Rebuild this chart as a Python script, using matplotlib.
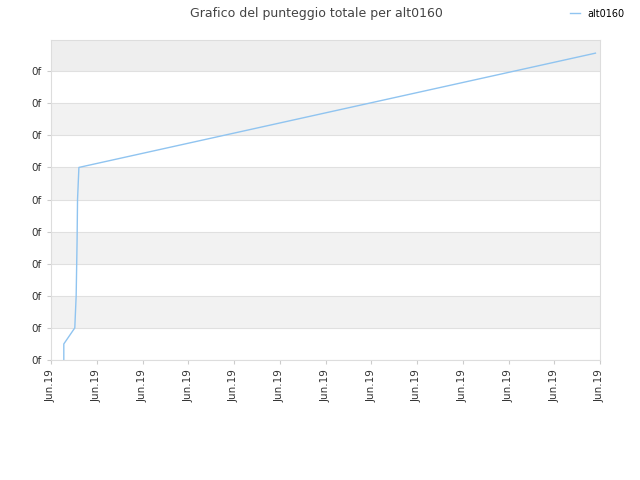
import matplotlib
matplotlib.use("Agg")
import matplotlib.pyplot as plt
from matplotlib.patches import Rectangle

# data in axis units (x: ticks 0..12, y: ticks 0..9)
x_vals = [0.28, 0.28, 0.52, 0.55, 0.57, 0.58, 0.61, 11.9]
y_vals = [0.0, 0.5, 1.0, 2.0, 3.7, 5.0, 6.0, 9.56]
x_labels = ["Jun.19"] * 13
y_labels = ["0f"] * 10

fig = plt.figure(figsize=(6.4, 4.8), dpi=100)
ax = fig.add_axes([51/640, 1 - 360/480, 549/640, 320/480])
ax.set_xlim(0, 12)
ax.set_ylim(0, 9.97)

for b in [1, 3, 5, 7]:
    ax.add_patch(Rectangle((0, b), 12, 1, color="#f2f2f2", zorder=0, lw=0))
ax.add_patch(Rectangle((0, 9), 12, 0.97, color="#eeeeee", zorder=0, lw=0))
for t in range(10):
    ax.axhline(t, color="#e0e0e0", lw=0.8, zorder=0.5)

ax.plot(x_vals, y_vals, color="#90c4f0", lw=1.0, label="alt0160")

ax.set_xticks(range(13))
ax.set_xticklabels(x_labels, rotation=90, fontsize=7.5, color="#333333")
ax.set_yticks(range(10))
ax.set_yticklabels(y_labels, fontsize=7.5, color="#333333")
ax.tick_params(length=3, color="#cccccc")
for s in ax.spines.values():
    s.set_color("#dddddd")

fig.suptitle("Grafico del punteggio totale per alt0160", x=0.495, y=0.985,
             fontsize=9, color="#444444")
fig.legend(loc="upper right", bbox_to_anchor=(0.99, 1.0), frameon=False,
           fontsize=7, handlelength=1.0)

fig.savefig("out.png", dpi=100)
